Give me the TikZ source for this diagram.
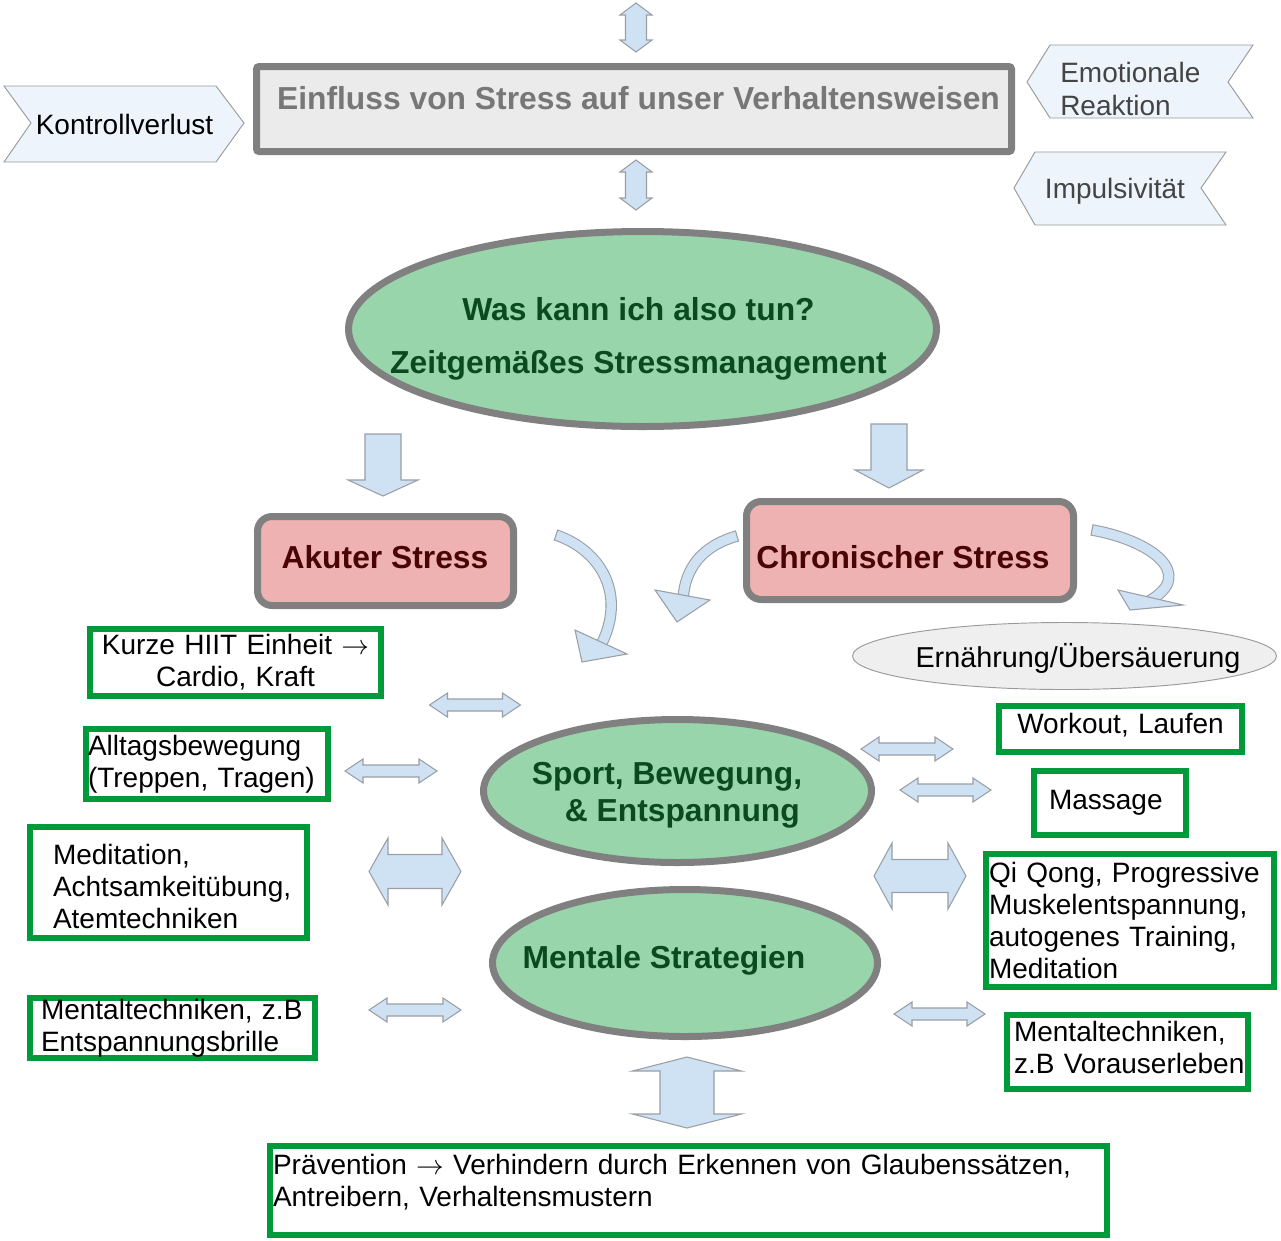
\documentclass[tikz,border=0pt]{standalone}
\usepackage{fontspec}
\setmainfont{Liberation Sans}
\usetikzlibrary{shapes.geometric}
\newdimen\pxu \pxu=0.75pt
\definecolor{bfill}{HTML}{CFE2F3}
\definecolor{barline}{HTML}{9A9FA6}
\definecolor{chevfill}{HTML}{EDF4FC}
\definecolor{chevline}{HTML}{9A9A9A}
\definecolor{thickgray}{HTML}{808080}
\definecolor{titlefill}{HTML}{EBEBEB}
\definecolor{titletext}{HTML}{777777}
\definecolor{egreen}{HTML}{98D5AB}
\definecolor{dgreen}{HTML}{0B4A1E}
\definecolor{pinkfill}{HTML}{EEB2B2}
\definecolor{dred}{HTML}{4A0404}
\definecolor{gborder}{HTML}{009A3A}
\definecolor{efill}{HTML}{EFEFEF}
\definecolor{ctext}{HTML}{444444}
\newcommand{\regf}{\fontsize{21pt}{24pt}\selectfont}
\newcommand{\bigf}{\fontsize{23.85pt}{28pt}\selectfont\bfseries}
\newcommand{\rarr}{$\rightarrow$}
\newcommand{\harr}[6]{\draw[blockarrow] ({#1-#3},#2) -- ({#1-#3+#4},{#2-#5}) -- ({#1-#3+#4},{#2-#6}) -- ({#1+#3-#4},{#2-#6}) -- ({#1+#3-#4},{#2-#5}) -- ({#1+#3},#2) -- ({#1+#3-#4},{#2+#5}) -- ({#1+#3-#4},{#2+#6}) -- ({#1-#3+#4},{#2+#6}) -- ({#1-#3+#4},{#2+#5}) -- cycle;}
\newcommand{\varr}[6]{\draw[blockarrow] (#1,{#2-#3}) -- ({#1+#5},{#2-#3+#4}) -- ({#1+#6},{#2-#3+#4}) -- ({#1+#6},{#2+#3-#4}) -- ({#1+#5},{#2+#3-#4}) -- (#1,{#2+#3}) -- ({#1-#5},{#2+#3-#4}) -- ({#1-#6},{#2+#3-#4}) -- ({#1-#6},{#2-#3+#4}) -- ({#1-#5},{#2-#3+#4}) -- cycle;}
\newcommand{\darr}[6]{\draw[blockarrow] ({#1-#6},#2) -- ({#1+#6},#2) -- ({#1+#6},#3) -- ({#1+#5},#3) -- (#1,#4) -- ({#1-#5},#3) -- ({#1-#6},#3) -- cycle;}
\tikzset{
  blockarrow/.style={draw=barline, fill=bfill, line width=0.8pt},
  chevron/.style={draw=chevline, fill=chevfill, line width=0.7pt},
  gbox/.style={rectangle, draw=gborder, fill=white, line width=4.875pt, inner ysep=0pt, font=\regf},
  stressbox/.style={rectangle, draw=thickgray, fill=pinkfill, line width=5.25pt, rounded corners=11pt, inner sep=0pt},
  bigoval/.style={ellipse, draw=thickgray, fill=egreen, line width=5.25pt, inner sep=0pt},
  ovaltext/.style={font=\bigf, text=dgreen, inner sep=0pt},
  stresstext/.style={font=\bigf, text=dred, inner sep=0pt},
  plaintext/.style={font=\regf, inner sep=0pt},
  curv/.style={draw=barline, double=bfill, double distance=7pt, line width=0.8pt},
  tailcap/.style={draw=barline, line width=0.8pt},
}
\begin{document}
\begin{tikzpicture}[x=0.75pt,y=-0.75pt]
\useasboundingbox (0,0) rectangle (1281,1240);
\fill[white] (0,0) rectangle (1281,1240);

% top arrows
\varr{636}{27.5}{24.5}{12}{16}{10.5}
\varr{636}{185}{25}{12}{16}{10.5}

% title
\node[rectangle, draw=thickgray, fill=titlefill, line width=5.25pt, rounded corners=2pt, minimum width=755\pxu, minimum height=85\pxu, inner sep=0pt] (title) at (634,109) {};
\node[font=\bigf, text=titletext, inner sep=0pt] (titletxt) at (638.5,98) {Einfluss von Stress auf unser Verhaltensweisen};

% chevrons
\draw[chevron] (4,86) -- (216,86) -- (244,123) -- (216,162) -- (4,162) -- (31,123) -- cycle;
\node[plaintext] (kontroll) at (124.5,124) {Kontrollverlust};
\draw[chevron] (1027,82) -- (1050,45) -- (1253,45) -- (1228,82) -- (1253,118) -- (1050,118) -- cycle;
\node[plaintext, text=ctext, align=left, anchor=west, font=\fontsize{21pt}{24.75pt}\selectfont] (emo) at (1060,88.5) {Emotionale\\Reaktion};
\draw[chevron] (1014,188) -- (1035,152) -- (1226,152) -- (1201,188) -- (1226,225) -- (1035,225) -- cycle;
\node[plaintext, text=ctext] (impuls) at (1115,191) {Impulsivität};

% main oval
\node[bigoval, minimum width=588\pxu, minimum height=195\pxu] (was) at (642.5,329) {};
\node[ovaltext, align=center, font=\fontsize{23.85pt}{39.75pt}\selectfont\bfseries] (wastxt) at (638.5,339) {Was kann ich also tun?\\Zeitgemäßes Stressmanagement};

% down arrows
\darr{383}{434}{480}{496}{35}{18}
\darr{889}{424}{470}{488}{34}{18}

% stress boxes
\node[stressbox, minimum width=256\pxu, minimum height=89\pxu] (akut) at (385.5,561) {};
\node[stresstext] (akuttxt) at (385,557) {Akuter Stress};
\node[stressbox, minimum width=327\pxu, minimum height=98\pxu] (chron) at (910,550.5) {};
\node[stresstext] (chrontxt) at (903,557) {Chronischer Stress};

% curved arrows
\draw[curv] (556,535) .. controls (600,550) and (628,594) .. (600,647);
\draw[tailcap] (554.2,540.4) -- (557.8,529.6);
\draw[blockarrow] (575,630) -- (627,654) -- (582,662) -- cycle;
\draw[curv] (737,536) .. controls (702,546) and (685,568) .. (683,599);
\draw[tailcap] (738.6,541.5) -- (735.4,530.5);
\draw[blockarrow] (655,590) -- (710,600) -- (677,622) -- cycle;
\draw[curv] (1092,530) .. controls (1150,540) and (1197,574) .. (1149,601);
\draw[tailcap] (1091,535.6) -- (1093,524.4);
\draw[blockarrow] (1118,590) -- (1183,605) -- (1130,610) -- cycle;

% Ernaehrung
\node[ellipse, draw=chevline, fill=efill, line width=0.7pt, minimum width=424\pxu, minimum height=67\pxu, inner sep=0pt] (ern) at (1064.5,656) {};
\node[inner sep=0pt, font=\fontsize{21.6pt}{24pt}\selectfont] (erntxt) at (1078,658) {Ernährung/Übersäuerung};

% central ovals
\node[bigoval, minimum width=388\pxu, minimum height=143\pxu] (sport) at (677.5,791) {};
\node[ovaltext, align=left, font=\fontsize{23.85pt}{27.75pt}\selectfont\bfseries] (sporttxt) at (667,795) {Sport, Bewegung,\\\hspace*{24.75pt}\& Entspannung};
\node[bigoval, minimum width=385\pxu, minimum height=147\pxu] (mental) at (685,963) {};
\node[ovaltext] (mentaltxt) at (664,960) {Mentale Strategien};

% left green boxes
\node[gbox, text width=291\pxu, inner xsep=0pt, align=center, minimum height=67\pxu] (hiit) at (235.5,662.5) {Kurze HIIT Einheit \rarr\\Cardio, Kraft};
\node[gbox, text width=238\pxu, inner xsep=2\pxu, align=left, minimum height=70\pxu] (alltag) at (207,764) {\mbox{Alltagsbewegung}\\\mbox{(Treppen, Tragen)}};
\node[gbox, text width=231\pxu, inner xsep=23\pxu, align=left, minimum height=111\pxu] (medit) at (168.5,882.5) {\mbox{\rule{0pt}{20.5pt}Meditation,}\\\mbox{Achtsamkeitübung,}\\\mbox{Atemtechniken}};
\node[gbox, text width=263\pxu, inner xsep=11\pxu, align=left, minimum height=60\pxu] (mentl) at (172.5,1028) {\mbox{Mentaltechniken, z.B}\\\mbox{Entspannungsbrille}};

% right green boxes
\node[gbox, text width=243\pxu, inner xsep=0pt, align=center, minimum height=46\pxu] (workout) at (1120.5,729) {\mbox{Workout, Laufen\rule[-9pt]{0pt}{9pt}}};
\node[gbox, text width=122\pxu, inner xsep=15\pxu, align=left, minimum height=64\pxu] (massage) at (1110,803) {\mbox{Massage}};
\node[gbox, text width=282\pxu, inner xsep=3\pxu, align=left, minimum height=133\pxu] (qiqong) at (1130,920.5) {\mbox{Qi Qong, Progressive}\\\mbox{Muskelentspannung,}\\\mbox{autogenes Training,}\\\mbox{Meditation}};
\node[gbox, text width=227\pxu, inner xsep=7\pxu, align=left, minimum height=74\pxu] (mentr) at (1127.5,1052) {\mbox{Mentaltechniken,}\\\mbox{z.B Vorauserleben\rule[-7.5pt]{0pt}{7.5pt}}};

% bottom
\varr{687}{1092.5}{35.5}{14}{54.5}{27}
\node[gbox, text width=831\pxu, inner xsep=3\pxu, align=left, minimum height=89\pxu] (praev) at (688.5,1190.5) {\mbox{Prävention \rarr{} Verhindern durch Erkennen von Glaubenssätzen,}\\\mbox{Antreibern, Verhaltensmustern\rule[-15.5pt]{0pt}{15.5pt}}};

% horizontal double arrows
\harr{475}{705}{45.5}{18}{12}{6}
\harr{391}{771}{46}{18}{12}{6}
\harr{907}{749}{46}{18}{12}{6}
\harr{945.5}{790}{45.5}{18}{12}{6}
\harr{415}{1010}{46}{18}{12}{6}
\harr{939.5}{1014}{45.5}{18}{12}{6}
\harr{415}{871.5}{46}{19}{33.5}{17}
\harr{920}{876}{46}{18}{33}{16.5}
\end{tikzpicture}
\end{document}
